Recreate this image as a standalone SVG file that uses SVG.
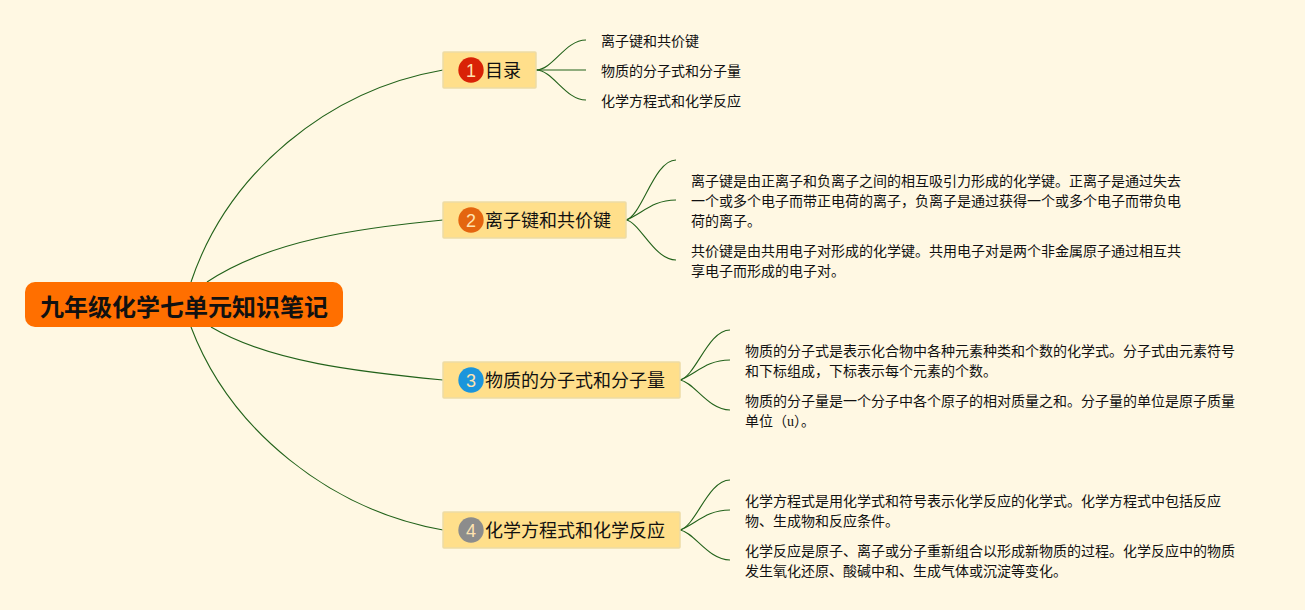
<svg xmlns="http://www.w3.org/2000/svg" width="1305" height="610" viewBox="0 0 1305 610">
<style>
text{font-family:"Noto Sans CJK SC","Liberation Sans",sans-serif;fill:#111}
.topic{fill:#FFDF8B;stroke:#EDDBA6;stroke-width:1.5}
.tt{font-size:18px}
.lf{font-size:14px}
.num{font-size:18px;font-family:"Liberation Sans",sans-serif;text-anchor:middle;fill:#FFE3B0}
.c{fill:none;stroke:#22621A;stroke-width:1.1}
</style>
<rect width="1305" height="610" fill="#FFF8E3"/>
<g id="connectors">
<path class="c" d="M191,282C228,172 328,90 443,70"/>
<path class="c" d="M207,282C270,240 360,228 443,220"/>
<path class="c" d="M191,327C230,430 330,510 443,530"/>
<path class="c" d="M211,327C270,362 360,372 443,380"/>
<path class="c" d="M536,70C553,70 565,40 586,40"/>
<path class="c" d="M536,70H586"/>
<path class="c" d="M536,70C553,70 565,100 586,100"/>
<path class="c" d="M626,220C642,216 654,160 676,160"/>
<path class="c" d="M626,220C642,214 652,200 676,200"/>
<path class="c" d="M626,220C640,222 654,260 676,260"/>
<path class="c" d="M680,380C696,376 708,330 730,330"/>
<path class="c" d="M680,380C696,374 706,360 730,360"/>
<path class="c" d="M680,380C694,382 708,410 730,410"/>
<path class="c" d="M680,530C696,526 708,480 730,480"/>
<path class="c" d="M680,530C696,524 706,510 730,510"/>
<path class="c" d="M680,530C694,532 708,560 730,560"/>
</g>
<g id="root">
<rect x="25" y="282" width="318" height="45" rx="10" fill="#FF6F00"/>
<text x="40" y="316" font-size="24" font-weight="700">九年级化学七单元知识笔记</text>
</g>
<g id="topic1">
<rect class="topic" x="443" y="52" width="93" height="36" rx="1"/>
<circle cx="471" cy="70" r="12.7" fill="#D92206"/>
<text class="num" x="471" y="76.500">1</text>
<text class="tt" x="485" y="77">目录</text>
</g>
<g id="topic2">
<rect class="topic" x="443" y="202" width="183" height="36" rx="1"/>
<circle cx="471" cy="220" r="12.7" fill="#E4650F"/>
<text class="num" x="471" y="226.500">2</text>
<text class="tt" x="485" y="227">离子键和共价键</text>
</g>
<g id="topic3">
<rect class="topic" x="443" y="362" width="237" height="36" rx="1"/>
<circle cx="471" cy="380" r="12.7" fill="#1B95DC"/>
<text class="num" x="471" y="386.500">3</text>
<text class="tt" x="485" y="387">物质的分子式和分子量</text>
</g>
<g id="topic4">
<rect class="topic" x="443" y="512" width="237" height="36" rx="1"/>
<circle cx="471" cy="530" r="12.7" fill="#8C8C8C"/>
<text class="num" x="471" y="536.500">4</text>
<text class="tt" x="485" y="537">化学方程式和化学反应</text>
</g>
<g id="leaf1-1"><text class="lf" x="601" y="46">离子键和共价键</text></g>
<g id="leaf1-2"><text class="lf" x="601" y="76">物质的分子式和分子量</text></g>
<g id="leaf1-3"><text class="lf" x="601" y="106">化学方程式和化学反应</text></g>
<g id="leaf2-1">
<text class="lf" x="691" y="186">离子键是由正离子和负离子之间的相互吸引力形成的化学键。正离子是通过失去</text>
<text class="lf" x="691" y="206">一个或多个电子而带正电荷的离子，负离子是通过获得一个或多个电子而带负电</text>
<text class="lf" x="691" y="226">荷的离子。</text>
</g>
<g id="leaf2-2">
<text class="lf" x="691" y="256">共价键是由共用电子对形成的化学键。共用电子对是两个非金属原子通过相互共</text>
<text class="lf" x="691" y="276">享电子而形成的电子对。</text>
</g>
<g id="leaf3-1">
<text class="lf" x="745" y="356">物质的分子式是表示化合物中各种元素种类和个数的化学式。分子式由元素符号</text>
<text class="lf" x="745" y="376">和下标组成，下标表示每个元素的个数。</text>
</g>
<g id="leaf3-2">
<text class="lf" x="745" y="406">物质的分子量是一个分子中各个原子的相对质量之和。分子量的单位是原子质量</text>
<text class="lf" x="745" y="426">单位（<tspan font-family="Liberation Serif">u</tspan>）。</text>
</g>
<g id="leaf4-1">
<text class="lf" x="745" y="506">化学方程式是用化学式和符号表示化学反应的化学式。化学方程式中包括反应</text>
<text class="lf" x="745" y="526">物、生成物和反应条件。</text>
</g>
<g id="leaf4-2">
<text class="lf" x="745" y="556">化学反应是原子、离子或分子重新组合以形成新物质的过程。化学反应中的物质</text>
<text class="lf" x="745" y="576">发生氧化还原、酸碱中和、生成气体或沉淀等变化。</text>
</g>
</svg>
